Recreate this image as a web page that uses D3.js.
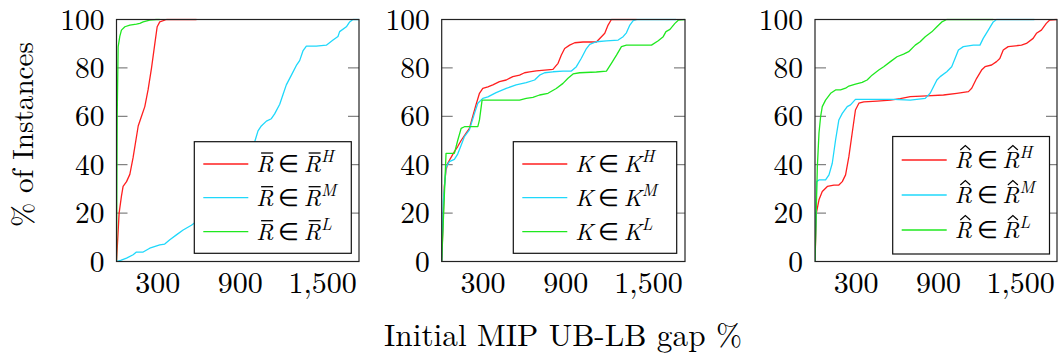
<!DOCTYPE html>
<html><head><meta charset="utf-8">
<script src="https://cdn.jsdelivr.net/npm/d3@7"></script>
<style>body{margin:0;background:#fff}</style>
</head><body><svg id="c" width="1061" height="354"></svg>
<script>
const xTicks = [300, 900, 1500];
const xTickLabels = ["300", "900", "1,500"];
const yTicks = [0, 20, 40, 60, 80, 100];
const seriesLevels = ["H", "M", "L"];
const seriesColors = ["#ff1f1f", "#1fd8fb", "#1fe81f"];
const panelSymbols = ["bar", "plain", "hat"];
const xLabel = "Initial MIP UB-LB gap %";
const yLabel = "% of Instances";

// Panel 1 (R-bar)
const p1H = [[0,0],[19,20],[36,27],[48,31],[73,33],[97,36],[121,43],[158,56],[182,60],[206,64],[230,71],[255,80],[279,90],[296,97],[315,99],[364,100],[582,100]];
const p1M = [[0,0],[30,0.5],[73,1.4],[121,2.8],[145,3.9],[194,3.9],[242,5.5],[315,6.9],[351,7.2],[388,9],[436,11],[485,13],[545,15],[570,16],[700,25],[850,36],[1006,49.5],[1030,54],[1054,56],[1091,58],[1127,59],[1151,61],[1188,65],[1212,69],[1236,73],[1273,77],[1309,81],[1333,83],[1357,87],[1382,89],[1454,89],[1527,89.4],[1576,91.5],[1612,93],[1624,95],[1673,97],[1697,99],[1721,100],[1765,100]];
const p1L = [[0,0],[5,60],[12,88.7],[24,93],[36,95.6],[61,97],[97,97.7],[145,98.1],[170,98.4],[194,99],[242,99.7],[291,100],[315,100]];

// Panel 2 (K)
const p2H = [[0,0],[19,31],[31.5,37.8],[43.6,40.6],[68,43],[92,45.4],[116,47.5],[141,50],[177,53],[201,55],[225,60],[250,65],[274,69.5],[298,71.5],[335,72.2],[371,73],[419,74.3],[468,75],[516,76.4],[565,77],[601,78],[638,78.4],[686,78.8],[747,79.1],[807,79.4],[844,81.9],[868,85.3],[892,88],[928,89.4],[965,90.4],[1025,90.7],[1122,90.7],[1159,92.9],[1183,94.3],[1207,97.7],[1231,100],[1413,100]];
const p2M = [[0,0],[12,25],[31.5,39],[56,41.3],[92,42.2],[116,44.4],[141,48],[165,51.6],[201,54.4],[238,61.2],[262,65.4],[298,67.4],[335,68],[395,69.8],[468,71.5],[540,73],[613,73.9],[674,75],[710,77],[747,78],[807,78.4],[880,78.7],[941,78.7],[977,80.5],[1013,84],[1050,88],[1074,89.7],[1122,90.8],[1195,91.2],[1280,91.5],[1316,92.9],[1340,94.5],[1365,97.7],[1389,99.5],[1413,100],[1700,100]];
const p2L = [[0,0],[31.5,44.7],[36,44.7],[92,44.7],[116,50],[141,55],[165,55.7],[262,55.7],[274,58.5],[293,66.7],[298,66.7],[565,66.7],[613,67.4],[662,67.8],[710,68.8],[771,69.5],[831,71.5],[880,73.6],[916,75.7],[953,77.5],[1001,78],[1122,78.3],[1195,78.7],[1231,81.9],[1268,85.3],[1304,88.8],[1340,89.4],[1522,89.4],[1571,91.2],[1607,92.9],[1627,95],[1656,95.9],[1692,98.4],[1716,99.7],[1765,100]];

// Panel 3 (R-hat)
const p3H = [[0,0],[10,20],[29,25.5],[53,28.9],[90,31],[138,31.6],[174,31.6],[199,33],[223,35.8],[247,43.3],[271,53],[295,62.6],[320,65.4],[356,66],[453,66.3],[550,66.7],[622,67.3],[695,68.1],[816,68.4],[937,68.8],[1034,69.5],[1119,70.2],[1143,71.6],[1179,75.7],[1215,79.1],[1240,80.5],[1288,81.2],[1324,82.6],[1348,83.9],[1373,87.4],[1409,88.8],[1506,89.4],[1542,90.1],[1591,92.2],[1615,94.3],[1651,95.6],[1687,98.4],[1712,99.8],[1765,100]];
const p3M = [[0,0],[12,33],[29,33.7],[77,33.7],[102,35.8],[126,40.6],[150,50.2],[174,58.5],[199,61.2],[235,64],[259,64.7],[295,67],[380,67],[574,67],[695,66.7],[804,67.4],[840,69.5],[864,72.2],[889,75],[913,76.4],[961,78.4],[997,80.5],[1022,84],[1046,87.4],[1082,88.8],[1155,89.4],[1203,89.4],[1227,92.2],[1264,95.6],[1300,99],[1324,100],[1600,100]];
const p3L = [[0,0],[17,39],[29,53],[41,59.9],[53,64],[77,66.7],[114,69.5],[150,70.9],[186,70.9],[223,71.6],[247,72.5],[295,73.3],[344,74],[380,75],[416,77],[465,79.1],[501,80.5],[550,82.6],[598,84.6],[646,85.7],[683,86.7],[731,89.4],[767,90.8],[804,92.9],[852,94.9],[889,97],[925,99],[961,100],[1300,100]];

const panelData = [[p1H, p1M, p1L], [p2H, p2M, p2L], [p3H, p3M, p3L]];

// ---- layout (positions only) ----
const FONT = '"Latin Modern Roman"';
const panels = [
  {left: 116.5, right: 359, legend: {x0: 194.3, x1: 351.3, y0: 141.7, y1: 253.3, rows: [164, 197.7, 231.7]}},
  {left: 441.7, right: 685, legend: {x0: 513.3, x1: 676.7, y0: 141.7, y1: 253.3, rows: [164, 197.7, 231.7]}},
  {left: 815, right: 1057, legend: {x0: 892.7, x1: 1049.5, y0: 136.5, y1: 254, rows: [160, 195, 230]}}
];
const plotTop = 19.5, plotBottom = 261.5;
const svg = d3.select("#c");

panels.forEach((p, pi) => {
  const x = d3.scaleLinear().domain([0, 1765]).range([p.left, p.right]);
  const y = d3.scaleLinear().domain([0, 100]).range([plotBottom, plotTop]);
  const g = svg.append("g");
  const clipId = "clip" + pi;
  svg.append("clipPath").attr("id", clipId).append("rect")
    .attr("x", p.left).attr("y", plotTop - 1).attr("width", p.right - p.left).attr("height", plotBottom - plotTop + 2);

  const yt = yTicks.filter(v => v > 0 && v < 100);
  g.selectAll(".tl").data(yt).join("line")
    .attr("x1", p.left).attr("x2", p.left + 11).attr("y1", d => y(d)).attr("y2", d => y(d))
    .attr("stroke", "#666").attr("stroke-width", 1);
  g.selectAll(".tr").data(yt).join("line")
    .attr("x1", p.right - 11).attr("x2", p.right).attr("y1", d => y(d)).attr("y2", d => y(d))
    .attr("stroke", "#666").attr("stroke-width", 1);

  g.selectAll(".yl").data(yTicks).join("text")
    .attr("x", p.left - 12).attr("y", d => y(d) + 10)
    .attr("text-anchor", "end").style("font-family", FONT).attr("font-size", 29.5)
    .attr("fill", "#000").text(d => d);

  g.selectAll(".xl").data(xTicks).join("text")
    .attr("x", d => x(d)).attr("y", 293)
    .attr("text-anchor", "middle").style("font-family", FONT).attr("font-size", 30)
    .attr("fill", "#000").text((d, i) => xTickLabels[i]);

  const line = d3.line().x(d => x(d[0])).y(d => y(d[1]));
  const lg = g.append("g").attr("clip-path", `url(#${clipId})`);
  panelData[pi].forEach((s, si) => {
    lg.append("path").datum(s).attr("d", line)
      .attr("fill", "none").attr("stroke", seriesColors[si]).attr("stroke-width", 1.3)
      .attr("stroke-linejoin", "round");
  });

  g.append("rect").attr("x", p.left).attr("y", plotTop).attr("width", p.right - p.left).attr("height", plotBottom - plotTop)
    .attr("fill", "none").attr("stroke", "#222").attr("stroke-width", 1.2);

  const L = p.legend;
  g.append("rect").attr("x", L.x0).attr("y", L.y0).attr("width", L.x1 - L.x0).attr("height", L.y1 - L.y0)
    .attr("fill", "#fff").attr("stroke", "#111").attr("stroke-width", 1.2);
  const sym = panelSymbols[pi];
  seriesLevels.forEach((lev, si) => {
    const ry = L.rows[si];
    g.append("line").attr("x1", L.x0 + 9).attr("x2", L.x0 + 54).attr("y1", ry).attr("y2", ry)
      .attr("stroke", seriesColors[si]).attr("stroke-width", 1.3);
    const base = sym === "plain" ? "K" : "R";
    const by = ry + 8;
    const t = g.append("text").attr("x", L.x0 + 62).attr("y", by)
      .style("font-family", FONT).attr("font-size", 23.5).attr("fill", "#000");
    t.append("tspan").attr("font-style", "italic").text(base);
    t.append("tspan").text("\u2009\u2208\u2009");
    t.append("tspan").attr("font-style", "italic").text(base);
    t.append("tspan").attr("font-style", "italic").attr("font-size", 17).attr("dy", -10).text(lev);
    if (sym !== "plain") {
      const node = t.node();
      [0, 4].forEach(ci => {
        const e = node.getExtentOfChar(ci);
        const w = e.width;
        if (sym === "bar") {
          g.append("line").attr("x1", e.x + 0.28 * w).attr("x2", e.x + 0.98 * w)
            .attr("y1", by - 19).attr("y2", by - 19).attr("stroke", "#000").attr("stroke-width", 1.3);
        } else {
          const cx = e.x + 0.62 * w;
          g.append("path").attr("d", `M${cx - 5},${by - 18} L${cx},${by - 22.5} L${cx + 5},${by - 18}`)
            .attr("fill", "none").attr("stroke", "#000").attr("stroke-width", 1.2);
        }
      });
    }
  });
});

svg.append("text").attr("transform", "translate(33,134.5) rotate(-90)")
  .attr("text-anchor", "middle").style("font-family", FONT).attr("font-size", 29.5).attr("fill", "#000")
  .attr("textLength", 185).attr("lengthAdjust", "spacingAndGlyphs").text(yLabel);
svg.append("text").attr("x", 563).attr("y", 346)
  .attr("text-anchor", "middle").style("font-family", FONT).attr("font-size", 31).attr("fill", "#000")
  .attr("textLength", 358).attr("lengthAdjust", "spacingAndGlyphs").text(xLabel);
</script></body></html>
